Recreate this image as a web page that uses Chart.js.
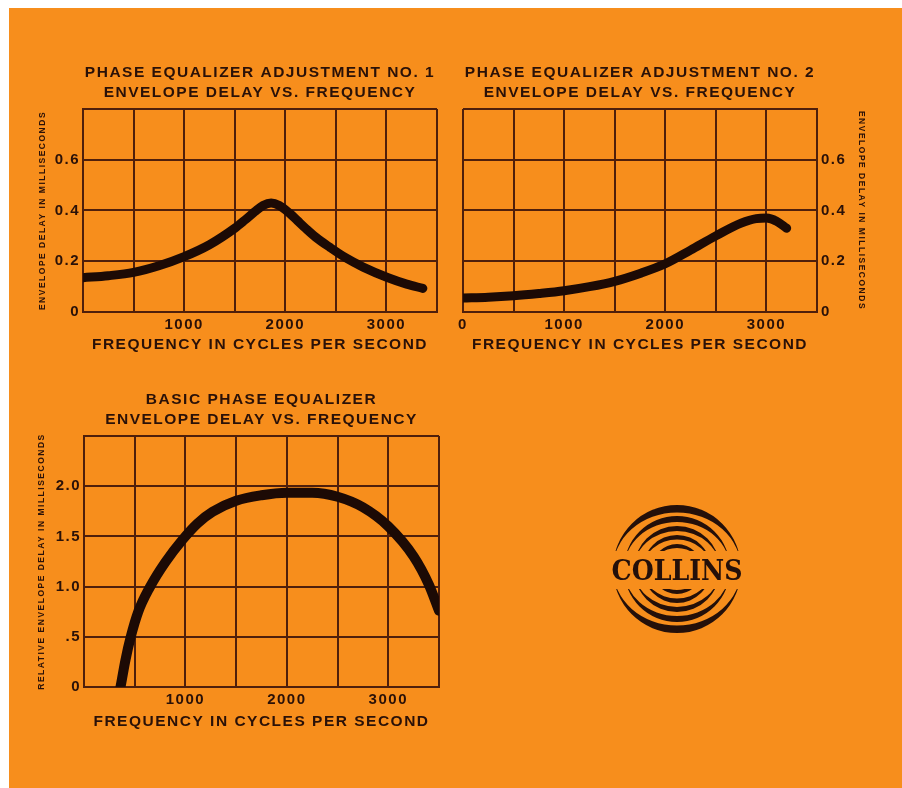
<!DOCTYPE html>
<html>
<head>
<meta charset="utf-8">
<title>Phase equalizer envelope delay</title>
<script src="https://cdn.jsdelivr.net/npm/chart.js@4.4.1/dist/chart.umd.min.js"></script>
<style>
  body { margin: 0; width: 902px; height: 788px; background: #fff; position: relative; overflow: hidden; }
  #sheet { position: absolute; left: 9px; top: 8px; right: 0; bottom: 0; background: #f78e1c; }
  canvas { position: absolute; }
  #chart_1 { left: 20px; top: 55px; }
  #chart_2 { left: 450px; top: 55px; }
  #chart_3 { left: 20px; top: 382px; }
  #logo { position: absolute; left: 0; top: 0; }
</style>
</head>
<body>
<div id="sheet"></div>
<canvas id="chart_1" width="430" height="310"></canvas>
<canvas id="chart_2" width="440" height="310"></canvas>
<canvas id="chart_3" width="430" height="358"></canvas>

<svg id="logo" width="902" height="788" viewBox="0 0 902 788">
  <defs>
    <clipPath id="top_half"><rect x="600" y="490" width="160" height="61"></rect></clipPath>
    <clipPath id="bottom_half"><rect x="600" y="589" width="160" height="60"></rect></clipPath>
  </defs>
  <g id="arcs_top" clip-path="url(#top_half)" fill="#24100a"></g>
  <g id="arcs_bottom" clip-path="url(#bottom_half)" fill="#24100a"></g>
  <text x="677" y="580" text-anchor="middle" textLength="131" lengthAdjust="spacingAndGlyphs"
        font-family="DejaVu Serif, Liberation Serif, serif" font-weight="bold" font-size="27" fill="#24100a">COLLINS</text>
</svg>

<script>
var text_col = '#2a1108'
var grid_col = '#4f1f0b'
var line_col = '#1c0a05'

// graph 1 - adjustment no. 1
var freq_1 = [0, 250, 500, 750, 1000, 1250, 1500, 1600, 1700, 1780, 1860, 1940, 2040, 2120, 2200, 2300, 2440, 2600, 2770, 3010, 3200, 3360]
var delay_1 = [0.135, 0.143, 0.156, 0.182, 0.218, 0.265, 0.33, 0.362, 0.396, 0.42, 0.43, 0.42, 0.39, 0.36, 0.33, 0.295, 0.255, 0.213, 0.177, 0.136, 0.11, 0.093]
var x_labels_1 = ['', '', '1000', '', '2000', '', '3000', '']
var y_labels_1 = ['0', '0.2', '0.4', '0.6', '']

// graph 2 - adjustment no. 2
var freq_2 = [0, 250, 500, 750, 1000, 1250, 1500, 1750, 2000, 2250, 2500, 2750, 2900, 3000, 3100, 3200]
var delay_2 = [0.055, 0.058, 0.064, 0.073, 0.084, 0.1, 0.121, 0.152, 0.19, 0.244, 0.3, 0.35, 0.368, 0.37, 0.358, 0.33]
var x_labels_2 = ['0', '', '1000', '', '2000', '', '3000', '']
var y_labels_2 = ['0', '0.2', '0.4', '0.6', '']

// graph 3 - basic equalizer
var freq_3 = [360, 409, 461, 535, 647, 800, 974, 1120, 1268, 1500, 1750, 2000, 2250, 2500, 2750, 3000, 3250, 3400, 3500]
var delay_3 = [0, 0.27, 0.5, 0.75, 0.99, 1.24, 1.47, 1.63, 1.745, 1.855, 1.91, 1.935, 1.935, 1.895, 1.79, 1.6, 1.3, 1.02, 0.76]
var x_labels_3 = ['', '', '1000', '', '2000', '', '3000', '']
var y_labels_3 = ['0', '.5', '1.0', '1.5', '2.0', '']

Chart.defaults.font.family = '"Liberation Sans", Arial, sans-serif'
Chart.defaults.color = text_col

// canvas letter spacing, the printed lettering is spread out
var spacing_plugin = {
  id: 'spacing',
  beforeUpdate: function (chart) { chart.ctx.letterSpacing = '1.5px' },
  beforeDraw: function (chart) { chart.ctx.letterSpacing = '1.5px' }
}

function draw_graph(id, s) {
  var points = []
  for (let i = 0; i < s.freq.length; i++) {
    points.push({x: s.freq[i], y: s.delay[i]})
  }

  new Chart(document.getElementById(id), {
    type: 'line',
    data: {
      datasets: [{
        data: points,
        borderColor: line_col,
        borderWidth: s.line_w,
        borderCapStyle: 'round',
        borderJoinStyle: 'round',
        pointRadius: 0,
        cubicInterpolationMode: 'monotone',
        fill: false
      }]
    },
    plugins: [spacing_plugin],
    options: {
      responsive: false,
      animation: false,
      layout: { padding: s.pad },
      plugins: {
        legend: { display: false },
        tooltip: { enabled: false },
        title: {
          display: true,
          text: s.title,
          fullSize: false,
          color: text_col,
          font: { size: 15.5, weight: 'bold', lineHeight: 1.29 },
          padding: { top: 8, bottom: 6 }
        }
      },
      scales: {
        x: {
          type: 'linear',
          min: 0,
          max: 3500,
          ticks: {
            stepSize: 500,
            autoSkip: false,
            maxRotation: 0,
            padding: 4,
            color: text_col,
            font: { size: 15, weight: 'bold' },
            callback: function (v, i) { return s.x_labels[i] }
          },
          grid: { color: grid_col, lineWidth: 2, drawTicks: false },
          border: { color: grid_col, width: 2 },
          title: {
            display: true,
            text: 'FREQUENCY IN CYCLES PER SECOND',
            color: text_col,
            font: { size: 15.5, weight: 'bold' },
            padding: { top: 0, bottom: s.x_title_pad }
          },
          afterFit: function (scale) { scale.height = 53 }
        },
        y: {
          position: s.y_side,
          min: 0,
          max: s.y_max,
          ticks: {
            stepSize: s.y_step,
            padding: s.y_tick_pad,
            color: text_col,
            font: { size: 15, weight: 'bold' },
            callback: function (v, i) { return s.y_labels[i] }
          },
          grid: { color: grid_col, lineWidth: 2, drawTicks: false },
          border: { color: grid_col, width: 2 },
          title: {
            display: true,
            text: s.y_title,
            color: text_col,
            font: { size: 8.5, weight: 'bold' },
            padding: { top: s.y_title_pad, bottom: 0 }
          },
          afterFit: function (scale) { scale.width = s.y_width }
        }
      }
    }
  })
}

draw_graph('chart_1', {
  title: ['PHASE EQUALIZER ADJUSTMENT NO. 1', 'ENVELOPE DELAY VS. FREQUENCY'],
  freq: freq_1, delay: delay_1, x_labels: x_labels_1, y_labels: y_labels_1,
  y_max: 0.8, y_step: 0.2, y_side: 'left', y_width: 63, y_tick_pad: 3,
  y_title: 'ENVELOPE DELAY IN MILLISECONDS', y_title_pad: 18,
  x_title_pad: 11, line_w: 9,
  pad: { left: 0, right: 13, top: 0, bottom: 0 }
})

draw_graph('chart_2', {
  title: ['PHASE EQUALIZER ADJUSTMENT NO. 2', 'ENVELOPE DELAY VS. FREQUENCY'],
  freq: freq_2, delay: delay_2, x_labels: x_labels_2, y_labels: y_labels_2,
  y_max: 0.8, y_step: 0.2, y_side: 'right', y_width: 73, y_tick_pad: 4,
  y_title: 'ENVELOPE DELAY IN MILLISECONDS', y_title_pad: 24,
  x_title_pad: 11, line_w: 9,
  pad: { left: 13, right: 0, top: 0, bottom: 0 }
})

draw_graph('chart_3', {
  title: ['BASIC PHASE EQUALIZER', 'ENVELOPE DELAY VS. FREQUENCY'],
  freq: freq_3, delay: delay_3, x_labels: x_labels_3, y_labels: y_labels_3,
  y_max: 2.5, y_step: 0.5, y_side: 'left', y_width: 64, y_tick_pad: 3,
  y_title: 'RELATIVE ENVELOPE DELAY IN MILLISECONDS', y_title_pad: 17,
  x_title_pad: 9, line_w: 10,
  pad: { left: 0, right: 11, top: 0, bottom: 0 }
})

// collins logo, crescent rings above and below the name
function draw_logo() {
  var cx = 677, cy = 569
  var radii = [64, 53, 43, 34, 25]
  var thick = [7.5, 6, 5, 4.5, 4]
  var top_g = document.getElementById('arcs_top')
  var bottom_g = document.getElementById('arcs_bottom')
  for (let i = 0; i < radii.length; i++) {
    var r = radii[i], t = thick[i]
    var up = document.createElementNS('http://www.w3.org/2000/svg', 'path')
    up.setAttribute('d', 'M ' + (cx - r) + ' ' + cy + ' A ' + r + ' ' + r + ' 0 0 1 ' + (cx + r) + ' ' + cy +
      ' A ' + r + ' ' + (r - t) + ' 0 0 0 ' + (cx - r) + ' ' + cy + ' Z')
    top_g.appendChild(up)
    var down = document.createElementNS('http://www.w3.org/2000/svg', 'path')
    down.setAttribute('d', 'M ' + (cx - r) + ' ' + cy + ' A ' + r + ' ' + r + ' 0 0 0 ' + (cx + r) + ' ' + cy +
      ' A ' + r + ' ' + (r - t) + ' 0 0 1 ' + (cx - r) + ' ' + cy + ' Z')
    bottom_g.appendChild(down)
  }
}
draw_logo()
</script>
</body>
</html>
